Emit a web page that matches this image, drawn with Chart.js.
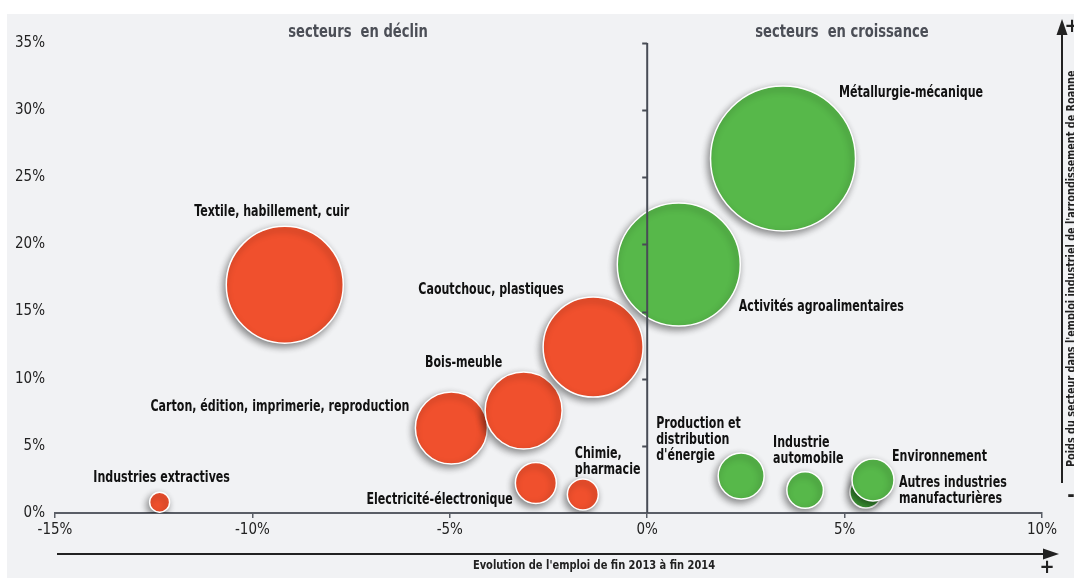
<!DOCTYPE html>
<html lang="fr">
<head>
<meta charset="utf-8">
<title>Secteurs industriels - arrondissement de Roanne</title>
<script src="https://cdn.jsdelivr.net/npm/chart.js@4/dist/chart.umd.min.js"></script>
<style>
  html, body { margin: 0; padding: 0; background: #ffffff; }
  #wrap { position: relative; width: 1074px; height: 578px; }
</style>
</head>
<body>
<div id="wrap"><canvas id="bulles" width="1074" height="578"></canvas></div>
<script>
// secteurs (ordre de dessin : "Autres industries" avant "Environnement")
const secteurs = [
  'Industries extractives',
  'Textile, habillement, cuir',
  'Carton, édition, imprimerie, reproduction',
  'Bois-meuble',
  'Caoutchouc, plastiques',
  'Electricité-électronique',
  'Chimie, pharmacie',
  'Production et distribution d\'énergie',
  'Industrie automobile',
  'Autres industries manufacturières',
  'Environnement',
  'Activités agroalimentaires',
  'Métallurgie-mécanique'
];
// evolution de l'emploi fin 2013 -> fin 2014 (%)
const evolution = [-12.35, -9.18, -4.96, -3.13, -1.37, -2.82, -1.63, 2.38, 4.0, 5.54, 5.72, 0.80, 3.44];
// poids du secteur dans l'emploi industriel (%)
const poids = [0.8, 17.0, 6.33, 7.63, 12.36, 2.23, 1.38, 2.75, 1.71, 1.56, 2.46, 18.5, 26.4];
// rayon des bulles (px)
const rayons = [10, 58.5, 36, 38.5, 50, 20.5, 15.5, 23, 18.3, 16, 21, 61.5, 72.5];
// etiquettes affichees a cote des bulles (une ligne par element)
const etiquettes = [
  ['Industries extractives'],
  ['Textile, habillement, cuir'],
  ['Carton, édition, imprimerie, reproduction'],
  ['Bois-meuble'],
  ['Caoutchouc, plastiques'],
  ['Electricité-électronique'],
  ['Chimie,', 'pharmacie'],
  ['Production et', 'distribution', 'd\'énergie'],
  ['Industrie', 'automobile'],
  ['Autres industries', 'manufacturières'],
  ['Environnement'],
  ['Activités agroalimentaires'],
  ['Métallurgie-mécanique']
];
// graduations
const ticksX = [-15, -10, -5, 0, 5, 10];
const ticksY = [0, 5, 10, 15, 20, 25, 30, 35];

// placement des etiquettes par rapport au centre de la bulle : [dx, dy, alignement]
const placement = [
  [2, -24, 'center'],
  [-13, -73, 'center'],
  [-42, -21, 'right'],
  [-60, -47, 'center'],
  [-102, -57, 'center'],
  [-23, 17, 'right'],
  [-8, -40, 'left'],
  [-85, -52, 'left'],
  [-32, -47, 'left'],
  [33, -9, 'left'],
  [19, -23, 'left'],
  [60, 43, 'left'],
  [56, -65, 'left']
];

const ROUGE = '#f0502d';
const VERT = '#57b84a';
const VERT_FONCE = '#3e9a36';
const POLICE = '"DejaVu Sans Condensed", "Liberation Sans", sans-serif';

const couleurs = evolution.map((v, i) => {
  if (secteurs[i] === 'Autres industries manufacturières') return VERT_FONCE;
  return v < 0 ? ROUGE : VERT;
});

const points = evolution.map((v, i) => ({ x: v, y: poids[i], r: rayons[i] }));

// texte resserre horizontalement (police etroite)
function texte(ctx, str, x, y, align, serre) {
  ctx.save();
  ctx.translate(x, y);
  ctx.scale(serre, 1);
  ctx.textAlign = align;
  ctx.fillText(str, 0, 0);
  ctx.restore();
}

// fond gris du cadre
const fondPlugin = {
  id: 'fond',
  beforeDraw(chart) {
    const ctx = chart.ctx;
    ctx.save();
    ctx.fillStyle = '#ffffff';
    ctx.fillRect(0, 0, chart.width, chart.height);
    ctx.fillStyle = '#f1f2f4';
    ctx.fillRect(7, 14, chart.width - 7, chart.height - 14);
    ctx.restore();
  }
};

// ombre portee sous les bulles
const ombrePlugin = {
  id: 'ombre',
  beforeDatasetsDraw(chart) {
    const ctx = chart.ctx;
    ctx.save();
    ctx.shadowColor = 'rgba(0,0,0,0.45)';
    ctx.shadowBlur = 7;
    ctx.shadowOffsetX = -2;
    ctx.shadowOffsetY = 3;
  },
  afterDatasetsDraw(chart) {
    chart.ctx.restore();
  }
};

function fleche(ctx, x1, y1, x2, y2) {
  const ang = Math.atan2(y2 - y1, x2 - x1);
  ctx.beginPath();
  ctx.moveTo(x1, y1);
  ctx.lineTo(x2 - 14 * Math.cos(ang), y2 - 14 * Math.sin(ang));
  ctx.stroke();
  ctx.beginPath();
  ctx.moveTo(x2, y2);
  ctx.lineTo(x2 - 16 * Math.cos(ang) + 5.5 * Math.sin(ang), y2 - 16 * Math.sin(ang) - 5.5 * Math.cos(ang));
  ctx.lineTo(x2 - 16 * Math.cos(ang) - 5.5 * Math.sin(ang), y2 - 16 * Math.sin(ang) + 5.5 * Math.cos(ang));
  ctx.closePath();
  ctx.fill();
}

// axe vertical a 0 %, etiquettes, titres et fleches
const decorPlugin = {
  id: 'decor',
  afterDatasetsDraw(chart) {
    const ctx = chart.ctx;
    const sx = chart.scales.x;
    const sy = chart.scales.y;
    const x0 = sx.getPixelForValue(0);

    ctx.save();
    // axe central
    ctx.strokeStyle = '#484c55';
    ctx.lineWidth = 2;
    ctx.beginPath();
    ctx.moveTo(x0, sy.getPixelForValue(35));
    ctx.lineTo(x0, sy.getPixelForValue(0));
    ctx.stroke();
    ticksY.forEach(t => {
      if (t === 0) return;
      const y = Math.round(sy.getPixelForValue(t)) + 0.5;
      ctx.beginPath();
      ctx.moveTo(x0 - 5, y);
      ctx.lineTo(x0, y);
      ctx.stroke();
    });

    // etiquettes des bulles
    ctx.fillStyle = '#111111';
    ctx.font = 'bold 15px ' + POLICE;
    ctx.textBaseline = 'middle';
    const meta = chart.getDatasetMeta(0);
    meta.data.forEach((pt, i) => {
      const [dx, dy, align] = placement[i];
      etiquettes[i].forEach((ligne, k) => {
        texte(ctx, ligne, pt.x + dx, pt.y + dy + k * 16, align, 0.82);
      });
    });

    // titres des deux zones
    ctx.fillStyle = '#4b4e56';
    ctx.font = 'bold 18px ' + POLICE;
    texte(ctx, 'secteurs  en déclin', 358, 32, 'center', 0.81);
    texte(ctx, 'secteurs  en croissance', 842, 32, 'center', 0.81);

    // fleche horizontale et titre de l'axe x
    ctx.strokeStyle = '#222222';
    ctx.fillStyle = '#222222';
    ctx.lineWidth = 2;
    fleche(ctx, 57, 554, 1059, 554);
    ctx.font = 'bold 12.5px ' + POLICE;
    texte(ctx, 'Evolution de l\'emploi de fin 2013 à fin 2014', 594, 566, 'center', 0.88);
    ctx.font = 'bold 20px ' + POLICE;
    texte(ctx, '+', 1047, 568, 'center', 1);

    // fleche verticale et titre de l'axe y
    fleche(ctx, 1062, 483, 1062, 19);
    texte(ctx, '+', 1072, 27, 'center', 1);
    texte(ctx, '-', 1071, 496, 'center', 1);
    ctx.save();
    ctx.translate(1075, 467);
    ctx.rotate(-Math.PI / 2);
    ctx.textBaseline = 'alphabetic';
    ctx.font = 'bold 12.5px ' + POLICE;
    texte(ctx, 'Poids du secteur dans l\'emploi industriel de l\'arrondissement de Roanne', 0, 0, 'left', 0.86);
    ctx.restore();
    ctx.restore();
  }
};

const ctx = document.getElementById('bulles').getContext('2d');
new Chart(ctx, {
  type: 'bubble',
  data: {
    datasets: [{
      label: 'Secteurs',
      data: points,
      backgroundColor: couleurs,
      borderColor: '#ffffff',
      borderWidth: 1.5,
      hoverRadius: 0
    }]
  },
  options: {
    responsive: false,
    animation: false,
    layout: { autoPadding: false, padding: { top: 43, left: 0, right: 32, bottom: 35 } },
    plugins: {
      legend: { display: false },
      tooltip: { enabled: false }
    },
    scales: {
      x: {
        type: 'linear',
        min: -15,
        max: 10,
        afterFit: s => { s.height = 30; },
        afterBuildTicks: s => { s.ticks = ticksX.map(v => ({ value: v })); },
        grid: { drawOnChartArea: false, drawTicks: true, tickLength: 5, color: '#5a5e66', lineWidth: 1.5 },
        border: { display: true, color: '#5a5e66', width: 2 },
        ticks: {
          color: '#222222',
          padding: 3,
          font: { family: POLICE, size: 15 },
          callback: v => v + '%'
        }
      },
      y: {
        type: 'linear',
        min: 0,
        max: 35,
        afterFit: s => { s.width = 55; },
        afterBuildTicks: s => { s.ticks = ticksY.map(v => ({ value: v })); },
        grid: { display: false, drawTicks: false },
        border: { display: false },
        ticks: {
          color: '#222222',
          padding: 10,
          font: { family: POLICE, size: 15 },
          callback: v => v + '%'
        }
      }
    }
  },
  plugins: [fondPlugin, ombrePlugin, decorPlugin]
});
</script>
</body>
</html>
